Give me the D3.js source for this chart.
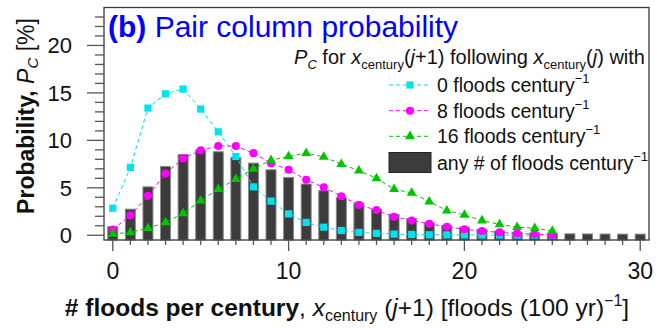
<!DOCTYPE html>
<html><head><meta charset="utf-8">
<script src="https://cdn.jsdelivr.net/npm/d3@7/dist/d3.min.js"></script>
<style>body{margin:0;background:#fff}svg{display:block}text{font-family:"Liberation Sans",Arial,sans-serif}</style>
</head><body>
<svg id="c" width="656" height="328"></svg>
<script>
// ---- data ----
const barX = d3.range(0, 31);
const anyFloods = [0.9,2.75,5.1,7.25,8.5,9.0,8.8,8.2,7.6,6.9,6.1,5.4,4.7,4.0,3.4,2.75,2.2,1.75,1.3,1.05,0.85,0.63,0.45,0.32,0.24,0.18,0.15,0.14,0.13,0.12,0.12];
const lineX = d3.range(0, 26);
const zeroFloods = [2.85,7.15,13.4,14.9,15.4,13.3,10.9,8.3,5.1,3.6,2.25,1.35,0.85,0.5,0.3,0.2,0.12,0.08,0.05,0.04,0.03,0.02,0.02,0.01,0.01,0.01];
const eightFloods = [0.6,2.1,4.15,6.5,8.1,8.95,9.4,9.4,8.65,7.6,6.9,5.85,5.05,4.1,3.2,2.65,1.95,1.55,1.2,0.9,0.63,0.45,0.3,0.18,0.12,0.06];
const sixteenFloods = [0.15,0.3,0.75,1.35,2.3,3.65,4.85,5.9,7.0,7.9,8.3,8.65,8.25,7.5,6.8,6.0,4.85,4.45,3.55,2.6,2.15,1.55,1.15,0.85,0.75,0.45];
const xTicks = [0,10,20,30];
const yTicks = [0,5,10,15,20];
const legendLabels = ["0 floods century","8 floods century","16 floods century","any # of floods century"];

const svg = d3.select("#c");
const L=104, R=649, T=7.5, B=240;
const x = d3.scaleLinear().domain([-0.5,30.5]).range([L,R]);
const y = d3.scaleLinear().domain([-0.5,24]).range([B,T]);

// rich text helper
function rich(sel, parts){
  parts.forEach(p=>{
    const t = sel.append("tspan").text(p.t);
    if(p.b) t.attr("font-weight","bold");
    if(p.i) t.attr("font-style","italic");
    if(p.s) t.attr("font-size",p.s);
    if(p.dy) t.attr("dy",p.dy);
  });
  return sel;
}

// bars
svg.append("g").selectAll("rect").data(barX).join("rect")
  .attr("x", d=>x(d)-5).attr("width",10)
  .attr("y", d=>y(anyFloods[d])).attr("height", d=>y(-0.5)-y(anyFloods[d]))
  .attr("fill","#3c3c3c").attr("stroke","#8a8a8a").attr("stroke-width",1);

const series = [
  {v:zeroFloods, c:"#00e3ee", sym:d3.symbolSquare, size:52},
  {v:eightFloods, c:"#ff00ff", sym:d3.symbolCircle, size:52},
  {v:sixteenFloods, c:"#00c400", sym:d3.symbolTriangle, size:42}
];
const line = d3.line().x((d,i)=>x(lineX[i])).y(d=>y(d));
series.forEach(s=>{
  svg.append("path").attr("d", line(s.v)).attr("fill","none")
    .attr("stroke",s.c).attr("stroke-width",1).attr("stroke-dasharray","4,3");
  svg.append("g").selectAll("path").data(s.v).join("path")
    .attr("d", d3.symbol().type(s.sym).size(s.size))
    .attr("transform",(d,i)=>`translate(${x(lineX[i])},${y(d)})`)
    .attr("fill",s.c);
});

// frame
svg.append("rect").attr("x",L).attr("y",T).attr("width",R-L).attr("height",B-T)
  .attr("fill","none").attr("stroke","#3a3a3a").attr("stroke-width",1.3);

// y ticks
const gy = svg.append("g");
d3.range(0,24).forEach(v=>{
  const major = v%5===0;
  gy.append("line").attr("x1",L-(major?17:9)).attr("x2",L).attr("y1",y(v)).attr("y2",y(v))
    .attr("stroke","#555").attr("stroke-width",1.3);
});
gy.selectAll("text").data(yTicks).join("text")
  .attr("x",72).attr("y",d=>y(d)).attr("dy","0.36em").attr("text-anchor","end")
  .attr("font-size",22).attr("fill","#111").text(d=>d);

// x ticks
const gx = svg.append("g");
d3.range(0,31).forEach(v=>{
  const major = v%10===0;
  gx.append("line").attr("x1",x(v)).attr("x2",x(v)).attr("y1",B).attr("y2",B+(major?11:5))
    .attr("stroke","#555").attr("stroke-width",1.3);
});
gx.selectAll("text").data(xTicks).join("text")
  .attr("x",d=>x(d)).attr("y",279).attr("text-anchor","middle")
  .attr("font-size",23).attr("fill","#111").text(d=>d);

// axis titles
rich(svg.append("text").attr("transform","translate(34,116) rotate(-90)")
  .attr("text-anchor","middle").attr("font-size",23).attr("fill","#111"),
  [{t:"Probability, ",b:1},{t:"P",i:1},{t:"C",i:1,s:15,dy:4},{t:" [%]",dy:-4}]);

rich(svg.append("text").attr("x",347).attr("y",316)
  .attr("text-anchor","middle").attr("font-size",24.5).attr("fill","#111"),
  [{t:"# floods per century",b:1},{t:", "},{t:"x",i:1},{t:"century",s:16,dy:5},
   {t:" (",dy:-5},{t:"j",i:1},{t:"+1) [floods (100 yr)"},{t:"\u22121",s:16,dy:-10},{t:"]",dy:10}]);

// chart title
rich(svg.append("text").attr("x",108).attr("y",37).attr("font-size",30).attr("fill","#0000ff"),
  [{t:"(b)",b:1},{t:" Pair column probability"}]);

// legend header
rich(svg.append("text").attr("x",645).attr("y",64).attr("text-anchor","end").attr("font-size",20).attr("fill","#111"),
  [{t:"P",i:1},{t:"C",i:1,s:13,dy:5},{t:" for ",dy:-5},{t:"x",i:1},{t:"century",s:13,dy:5},
   {t:"(",dy:-5},{t:"j",i:1},{t:"+1) following "},{t:"x",i:1},{t:"century",s:13,dy:5},
   {t:"(",dy:-5},{t:"j",i:1},{t:") with"}]);

// legend entries
const lgY = [85,110.7,136.3,162.5];
series.forEach((s,k)=>{
  svg.append("line").attr("x1",389).attr("x2",431).attr("y1",lgY[k]).attr("y2",lgY[k])
    .attr("stroke",s.c).attr("stroke-width",1).attr("stroke-dasharray","4,3");
  svg.append("path").attr("d",d3.symbol().type(s.sym).size(s.size)())
    .attr("transform",`translate(410,${lgY[k]})`).attr("fill",s.c);
});
svg.append("rect").attr("x",389).attr("y",lgY[3]-10).attr("width",42).attr("height",20)
  .attr("fill","#3c3c3c").attr("stroke","#222").attr("stroke-width",1);
legendLabels.forEach((lab,k)=>{
  rich(svg.append("text").attr("x",437).attr("y",lgY[k]+7).attr("font-size",19.5).attr("fill","#111"),
    [{t:lab},{t:"\u22121",s:13,dy:-9}]);
});
</script>
</body></html>
